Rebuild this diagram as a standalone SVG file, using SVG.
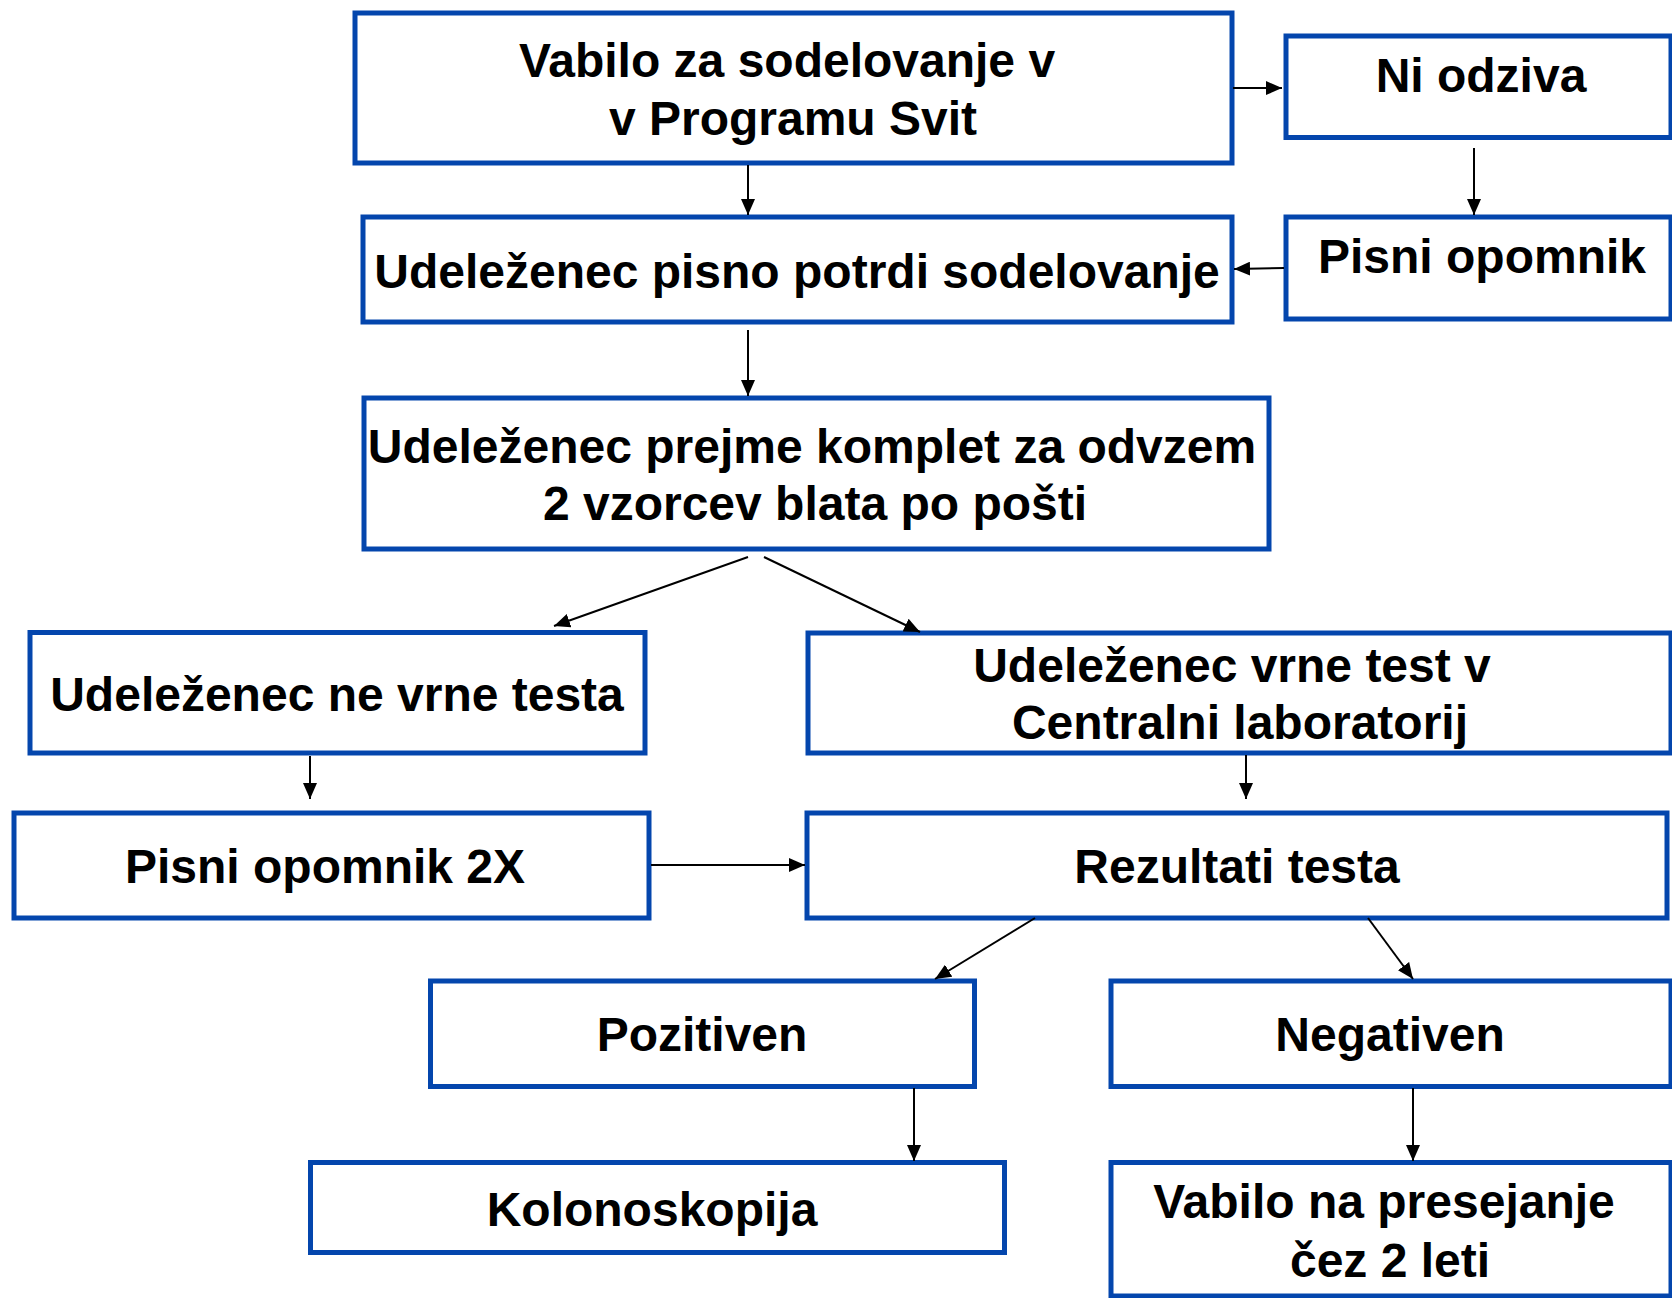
<svg xmlns="http://www.w3.org/2000/svg" width="1672" height="1298" viewBox="0 0 1672 1298">
<style>
.box{fill:#fff;stroke:#0446ad;stroke-width:5}
.t{font-family:"Liberation Sans",Arial,sans-serif;font-weight:bold;font-size:48px;fill:#000;text-anchor:middle}
.c{stroke:#000;stroke-width:2;fill:none;marker-end:url(#ah)}
</style>
<defs>
<marker id="ah" markerUnits="userSpaceOnUse" markerWidth="16" markerHeight="14" refX="16" refY="7" orient="auto">
<path d="M0,0 L16,7 L0,14 z" fill="#000"/>
</marker>
</defs>
<rect width="1672" height="1298" fill="#fff"/>
<g id="n1"><rect class="box" x="355" y="13" width="877" height="150"/><text class="t" x="787" y="77">Vabilo za sodelovanje v</text><text class="t" x="793" y="135">v Programu Svit</text></g>
<g id="n2"><rect class="box" x="1286" y="36" width="385" height="101.5"/><text class="t" x="1481" y="92">Ni odziva</text></g>
<g id="n3"><rect class="box" x="363" y="217" width="869" height="105"/><text class="t" x="797" y="288">Udeleženec pisno potrdi sodelovanje</text></g>
<g id="n4"><rect class="box" x="1286" y="217" width="385" height="102"/><text class="t" x="1482" y="273">Pisni opomnik</text></g>
<g id="n5"><rect class="box" x="364" y="398" width="905" height="151"/><text class="t" x="812" y="463">Udeleženec prejme komplet za odvzem</text><text class="t" x="815" y="520">2 vzorcev blata po pošti</text></g>
<g id="n6"><rect class="box" x="30" y="632.5" width="615" height="120.5"/><text class="t" x="337" y="711">Udeleženec ne vrne testa</text></g>
<g id="n7"><rect class="box" x="808" y="633" width="863" height="120"/><text class="t" x="1232" y="682">Udeleženec vrne test v</text><text class="t" x="1240" y="739">Centralni laboratorij</text></g>
<g id="n8"><rect class="box" x="14" y="813" width="635" height="105"/><text class="t" x="325" y="883">Pisni opomnik 2X</text></g>
<g id="n9"><rect class="box" x="807" y="813" width="860" height="105"/><text class="t" x="1237" y="883">Rezultati testa</text></g>
<g id="n10"><rect class="box" x="430.5" y="981" width="544" height="105.5"/><text class="t" x="702" y="1051">Pozitiven</text></g>
<g id="n11"><rect class="box" x="1111" y="981" width="560" height="105.5"/><text class="t" x="1390" y="1051">Negativen</text></g>
<g id="n12"><rect class="box" x="310.5" y="1162.5" width="694" height="90"/><text class="t" x="652" y="1226">Kolonoskopija</text></g>
<g id="n13"><rect class="box" x="1111" y="1162.5" width="560" height="133.5"/><text class="t" x="1384" y="1218">Vabilo na presejanje</text><text class="t" x="1390" y="1277">čez 2 leti</text></g>
<g id="connectors">
<line class="c" x1="1233" y1="88" x2="1282" y2="88"/>
<line class="c" x1="748" y1="165" x2="748" y2="215"/>
<line class="c" x1="1474" y1="148" x2="1474" y2="215"/>
<line class="c" x1="1284" y1="268" x2="1234" y2="269"/>
<line class="c" x1="748" y1="330" x2="748" y2="396"/>
<line class="c" x1="748" y1="557" x2="554" y2="626"/>
<line class="c" x1="764" y1="557" x2="920" y2="632"/>
<line class="c" x1="310" y1="756" x2="310" y2="799"/>
<line class="c" x1="1246" y1="755" x2="1246" y2="799"/>
<line class="c" x1="651" y1="865" x2="805" y2="865"/>
<line class="c" x1="1035" y1="918" x2="935" y2="979"/>
<line class="c" x1="1368" y1="918" x2="1413" y2="979"/>
<line class="c" x1="914" y1="1088" x2="914" y2="1161"/>
<line class="c" x1="1413" y1="1088" x2="1413" y2="1161"/>
</g>
</svg>
